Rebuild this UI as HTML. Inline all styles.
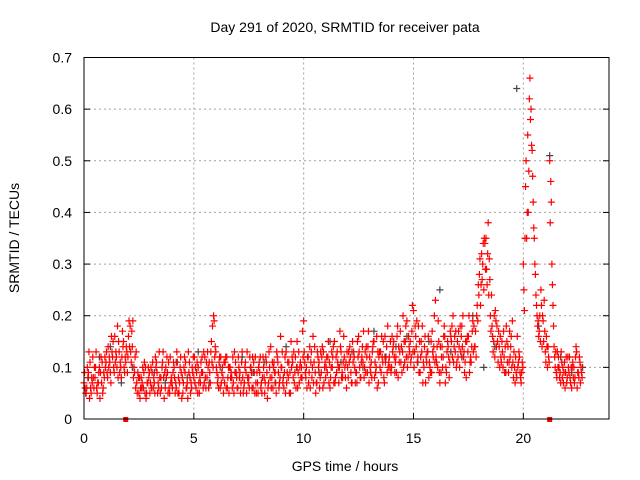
<!DOCTYPE html>
<html><head><meta charset="utf-8"><style>
body{margin:0;background:#fff;width:640px;height:480px;overflow:hidden}
svg{display:block;font-family:"Liberation Sans",sans-serif;font-size:14px}
</style></head><body>
<svg id="chart" width="640" height="480">
<text x="345" y="32" text-anchor="middle">Day 291 of 2020, SRMTID for receiver pata</text>
<text x="345" y="471" text-anchor="middle">GPS time / hours</text>
<text transform="translate(19,238) rotate(-90)" text-anchor="middle">SRMTID / TECUs</text>
<g id="grid"></g>
<g id="ticks"></g>
<g id="marks"></g>
<rect x="84" y="57.5" width="525" height="361.5" fill="none" stroke="#000" stroke-width="1"/>
</svg>
<script>
const xTicks=[0,5,10,15,20];
const yTicks=[0,0.1,0.2,0.3,0.4,0.5,0.6,0.7];
const yTickLabels=["0","0.1","0.2","0.3","0.4","0.5","0.6","0.7"];
const tStart=0, tStep=0.1;
const redA=[0.07,0.05,0.09,0.06,0.12,0.08,0.05,0.10,0.07,0.09,
0.11,0.14,0.09,0.12,0.16,0.10,0.13,0.08,0.15,0.11,
0.12,0.18,0.14,0.09,0.07,0.05,0.08,0.06,0.10,0.07,
0.05,0.09,0.07,0.11,0.06,0.08,0.13,0.06,0.09,0.05,
0.07,0.10,0.06,0.08,0.12,0.05,0.09,0.07,0.11,0.06,
0.08,0.06,0.10,0.07,0.09,0.12,0.08,0.11,0.15,0.20,
0.13,0.08,0.06,0.10,0.07,0.12,0.05,0.09,0.07,0.11,
0.06,0.09,0.13,0.07,0.05,0.08,0.10,0.06,0.12,0.07,
0.09,0.05,0.08,0.11,0.07,0.14,0.06,0.09,0.12,0.07,
0.10,0.06,0.13,0.08,0.05,0.11,0.09,0.15,0.07,0.10,
0.19,0.08,0.12,0.06,0.10,0.14,0.07,0.11,0.09,0.13,
0.08,0.12,0.06,0.10,0.15,0.09,0.07,0.13,0.11,0.08,
0.10,0.14,0.07,0.12,0.09,0.16,0.08,0.11,0.13,0.09,
0.12,0.08,0.15,0.10,0.07,0.13,0.11,0.16,0.09,0.12,
0.10,0.15,0.12,0.08,0.17,0.13,0.11,0.19,0.14,0.12,
0.21,0.16,0.12,0.09,0.18,0.14,0.11,0.08,0.15,0.12,
0.23,0.10,0.07,0.14,0.18,0.09,0.12,0.16,0.20,0.13,
0.15,0.10,0.18,0.13,0.08,0.16,0.12,0.19,0.14,0.22,
0.28,0.32,0.25,0.35,0.38,0.20,0.16,0.12,0.18,0.14,
0.11,0.17,0.09,0.14,0.12,0.19,0.10,0.08,0.13,0.07,
0.30,0.45,0.55,0.66,0.52,0.35,0.22,0.16,0.25,0.19,
0.13,0.10,0.50,0.30,0.14,0.09,0.12,0.07,0.10,0.06,
0.08,0.12,0.06,0.10,0.14,0.09,0.07];
const redB=[0.06,0.10,0.04,0.08,0.06,0.13,0.07,0.09,0.05,0.12,
0.09,0.12,0.16,0.10,0.13,0.08,0.11,0.17,0.09,0.13,
0.19,0.11,0.08,0.06,0.09,0.04,0.07,0.11,0.05,0.08,
0.10,0.06,0.12,0.05,0.08,0.10,0.04,0.08,0.11,0.07,
0.09,0.05,0.11,0.07,0.04,0.10,0.06,0.13,0.05,0.09,
0.07,0.11,0.05,0.09,0.13,0.06,0.10,0.07,0.18,0.12,
0.09,0.11,0.07,0.05,0.12,0.08,0.10,0.06,0.13,0.08,
0.10,0.07,0.05,0.11,0.08,0.12,0.06,0.09,0.05,0.10,
0.06,0.12,0.07,0.04,0.10,0.08,0.11,0.05,0.09,0.16,
0.07,0.12,0.09,0.05,0.10,0.13,0.06,0.09,0.11,0.17,
0.11,0.06,0.09,0.13,0.07,0.05,0.12,0.08,0.14,0.10,
0.12,0.07,0.10,0.14,0.08,0.11,0.17,0.09,0.12,0.06,
0.13,0.09,0.11,0.07,0.15,0.10,0.12,0.08,0.14,0.17,
0.09,0.14,0.11,0.06,0.13,0.16,0.08,0.12,0.10,0.15,
0.13,0.09,0.16,0.11,0.14,0.10,0.18,0.12,0.15,0.22,
0.13,0.19,0.09,0.15,0.11,0.07,0.13,0.10,0.17,0.20,
0.11,0.15,0.09,0.12,0.07,0.15,0.11,0.18,0.14,0.10,
0.17,0.13,0.20,0.11,0.16,0.09,0.14,0.18,0.12,0.26,
0.22,0.30,0.34,0.26,0.31,0.24,0.15,0.19,0.11,0.16,
0.13,0.09,0.15,0.11,0.16,0.08,0.12,0.10,0.09,0.11,
0.21,0.35,0.48,0.60,0.42,0.28,0.18,0.20,0.14,0.23,
0.16,0.12,0.46,0.22,0.10,0.13,0.08,0.11,0.09,0.12,
0.10,0.07,0.11,0.08,0.06,0.12,0.09];
const redC=[0.09,0.06,0.13,0.05,0.08,0.10,0.07,0.04,0.11,0.08,
0.13,0.10,0.07,0.15,0.11,0.18,0.09,0.12,0.10,0.14,
0.16,0.13,0.19,0.12,0.05,0.08,0.06,0.09,0.04,0.10,
0.07,0.11,0.05,0.09,0.13,0.06,0.08,0.10,0.05,0.12,
0.06,0.08,0.13,0.05,0.09,0.07,0.11,0.04,0.08,0.10,
0.12,0.09,0.07,0.11,0.06,0.08,0.13,0.09,0.11,0.19,
0.10,0.06,0.12,0.08,0.11,0.06,0.10,0.08,0.05,0.09,
0.12,0.05,0.08,0.10,0.13,0.06,0.09,0.11,0.07,0.05,
0.12,0.08,0.05,0.09,0.13,0.06,0.10,0.07,0.11,0.08,
0.13,0.09,0.07,0.11,0.15,0.08,0.12,0.06,0.10,0.08,
0.13,0.10,0.07,0.11,0.16,0.09,0.13,0.06,0.12,0.07,
0.10,0.15,0.08,0.12,0.07,0.13,0.10,0.08,0.16,0.11,
0.08,0.12,0.15,0.10,0.07,0.13,0.11,0.17,0.09,0.14,
0.10,0.13,0.08,0.16,0.12,0.09,0.15,0.11,0.18,0.10,
0.16,0.12,0.09,0.14,0.11,0.20,0.15,0.10,0.13,0.17,
0.10,0.14,0.18,0.12,0.07,0.16,0.13,0.11,0.09,0.14,
0.12,0.19,0.14,0.10,0.16,0.13,0.08,0.15,0.11,0.17,
0.12,0.18,0.14,0.09,0.15,0.20,0.11,0.13,0.17,0.19,
0.31,0.27,0.35,0.29,0.24,0.17,0.13,0.21,0.15,0.10,
0.15,0.12,0.18,0.09,0.14,0.11,0.07,0.16,0.12,0.09,
0.25,0.50,0.40,0.58,0.47,0.30,0.20,0.17,0.22,0.15,
0.11,0.14,0.38,0.26,0.12,0.08,0.10,0.13,0.07,0.09,
0.12,0.08,0.10,0.07,0.13,0.08,0.10];
const redD=[0.05,0.08,0.11,0.07,0.10,0.06,0.09,0.12,0.06,0.10,
0.08,0.11,0.13,0.09,0.12,0.15,0.10,0.14,0.12,0.09,
0.14,0.17,0.10,0.13,0.08,0.06,0.10,0.05,0.07,0.09,
0.06,0.08,0.10,0.07,0.05,0.11,0.09,0.12,0.06,0.08,
0.11,0.07,0.05,0.10,0.08,0.12,0.06,0.09,0.07,0.12,
0.10,0.05,0.08,0.12,0.07,0.11,0.06,0.13,0.10,0.14,
0.07,0.12,0.09,0.11,0.06,0.10,0.08,0.12,0.09,0.06,
0.08,0.11,0.06,0.09,0.07,0.10,0.12,0.05,0.09,0.11,
0.07,0.10,0.12,0.06,0.08,0.11,0.09,0.13,0.06,0.10,
0.08,0.05,0.11,0.09,0.12,0.07,0.10,0.13,0.08,0.12,
0.09,0.12,0.14,0.08,0.11,0.07,0.10,0.13,0.06,0.11,
0.09,0.11,0.13,0.07,0.12,0.10,0.14,0.08,0.10,0.13,
0.11,0.07,0.13,0.09,0.12,0.08,0.14,0.10,0.12,0.07,
0.11,0.15,0.09,0.13,0.10,0.12,0.07,0.14,0.11,0.09,
0.14,0.11,0.18,0.13,0.09,0.15,0.12,0.16,0.11,0.13,
0.18,0.11,0.15,0.13,0.10,0.12,0.16,0.09,0.13,0.11,
0.14,0.09,0.12,0.16,0.10,0.14,0.17,0.12,0.16,0.11,
0.14,0.16,0.12,0.15,0.13,0.11,0.17,0.14,0.20,0.24,
0.26,0.34,0.29,0.32,0.27,0.18,0.20,0.14,0.17,0.12,
0.10,0.14,0.11,0.17,0.10,0.13,0.09,0.11,0.08,0.10,
0.35,0.40,0.62,0.53,0.37,0.24,0.19,0.15,0.20,0.17,
0.14,0.11,0.42,0.18,0.13,0.10,0.09,0.08,0.11,0.07,
0.09,0.10,0.08,0.12,0.09,0.11,0.08];
const grayVals=[0.08,0.12,0.14,0.07,0.10,0.06,0.09,0.07,0.11,0.08,0.13,0.07,0.10,0.08,0.12,0.09,0.11,0.07,0.14,0.10,0.12,0.09,0.15,0.11,0.13,0.10,0.17,0.12,0.14,0.16,0.11,0.15,0.25,0.13,0.12,0.20,0.10,0.14,0.09,0.64,0.40,0.18,0.51,0.12,0.09,0.10];
const grayStep=0.5;
const zeroMarkerTimes=[1.9,21.2];

const X0=84,X1=609,TMAX=23.9,Y0=419,Y1=57.5,VMAX=0.7;
const xs=t=>X0+(X1-X0)*t/TMAX;
const ys=v=>Y0-(Y0-Y1)*v/VMAX;
const NS="http://www.w3.org/2000/svg";
function mk(tag,attrs,parent){const e=document.createElementNS(NS,tag);for(const k in attrs)e.setAttribute(k,attrs[k]);parent.appendChild(e);return e;}
const grid=document.getElementById('grid'),ticks=document.getElementById('ticks'),marks=document.getElementById('marks');
xTicks.forEach(t=>{
  const x=xs(t);
  if(t>0){const g=mk('line',{x1:x,x2:x,y1:Y1,y2:Y0,stroke:'#a0a0a0','stroke-dasharray':'2,3'},grid);
  
  }
  const l=mk('line',{x1:x,x2:x,y1:Y0,y2:Y0-6,stroke:'#000'},ticks);
  
  
  const tx=mk('text',{x:x,y:Y0+24,'text-anchor':'middle'},ticks);tx.textContent=t;
  
  
});
yTicks.forEach((v,i)=>{
  const y=ys(v);
  if(v>0&&v<VMAX){const g=mk('line',{x1:X0,x2:X1,y1:y,y2:y,stroke:'#a0a0a0','stroke-dasharray':'2,3'},grid);
  
  }
  const l=mk('line',{x1:X0,x2:X0+6,y1:y,y2:y,stroke:'#000'},ticks);
  
  
  const l2=mk('line',{x1:X1,x2:X1-6,y1:y,y2:y,stroke:'#000'},ticks);
  
  
  const tx=mk('text',{x:X0-12,y:y+5,'text-anchor':'end'},ticks);tx.textContent=yTickLabels[i];
  
  
});
function plus(x,y,c){const p=mk('path',{d:`M${x-3.5},${y}h7M${x},${y-3.5}v7`,stroke:c,'stroke-width':1.2,fill:'none'},marks);
  
  }
grayVals.forEach((v,i)=>plus(xs(tStart+i*grayStep+0.2),ys(v),'#444'));
redA.forEach((v,i)=>plus(xs(tStart+i*tStep),ys(v),'#f00'));
redB.forEach((v,i)=>plus(xs(tStart+i*tStep+0.05),ys(v),'#f00'));
redC.forEach((v,i)=>plus(xs(tStart+i*tStep+0.025),ys(v),'#f00'));
redD.forEach((v,i)=>plus(xs(tStart+i*tStep+0.075),ys(v),'#f00'));
zeroMarkerTimes.forEach(t=>{const r=mk('rect',{x:xs(t)-2.5,y:Y0-2,width:5,height:5,fill:'#f00'},marks);
  
  });
</script>
</body></html>
